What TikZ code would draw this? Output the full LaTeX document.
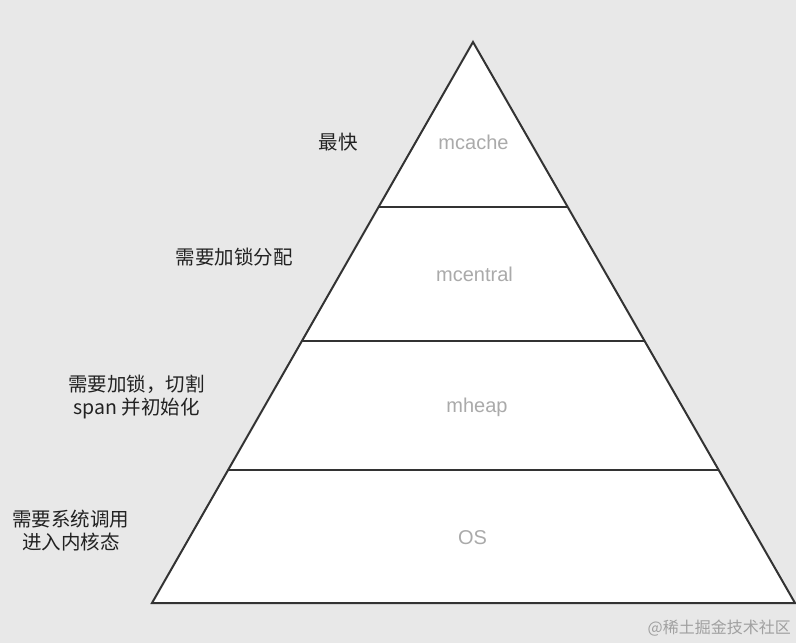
\documentclass[tikz,border=0pt]{standalone}
\usepackage{fontspec}
\setmainfont{Liberation Sans}
\newfontfamily\cjk{Noto Sans CJK SC}
\usetikzlibrary{calc}
\definecolor{bg}{HTML}{E8E8E8}
\definecolor{edge}{HTML}{333333}
\definecolor{lvl}{HTML}{AAAAAA}
\definecolor{note}{HTML}{222222}
\definecolor{wm}{HTML}{A0A0A0}
\tikzset{
  edgeline/.style={draw=edge, line width=2pt, line join=miter},
  levellabel/.style={text=lvl, font=\fontsize{20}{24}\selectfont, inner sep=0pt},
  notelabel/.style={text=note, font=\cjk\fontsize{19.5}{23}\selectfont, align=center, inner sep=0pt},
}
\begin{document}
\begin{tikzpicture}[x=1pt,y=-1pt]
\fill[bg] (0,0) rectangle (796,643);
\useasboundingbox (0,0) rectangle (796,643);
\coordinate (A) at (473,42);
\coordinate (L) at (152,603);
\coordinate (R) at (795,603);
\filldraw[fill=white, edgeline] (A) -- (L) -- (R) -- cycle;
\foreach \t/\n in {0.2941/a,0.5330/b,0.7629/c}{
  \coordinate (l\n) at ($(A)!\t!(L)$);
  \coordinate (r\n) at ($(A)!\t!(R)$);
  \draw[edgeline] (l\n) -- (r\n);
}
\node[levellabel] (mcache) at (473.5,142) {mcache};
\node[levellabel] (mcentral) at (474.5,274) {mcentral};
\node[levellabel] (mheap) at (477,407) {mheap};
\node[levellabel] (os) at (472.5,538) {OS};
\node[notelabel] (n1) at (338,142) {最快};
\node[notelabel] (n2) at (234,257) {需要加锁分配};
\node[notelabel] (n3) at (136.5,396.5) {需要加锁，切割\\span 并初始化};
\node[notelabel] (n4) at (71,531) {需要系统调用\\进入内核态};
\node[text=wm, font=\cjk\fontsize{16}{18}\selectfont, inner sep=0pt, anchor=east] (wm) at (791,628) {@稀土掘金技术社区};
\end{tikzpicture}
\end{document}
